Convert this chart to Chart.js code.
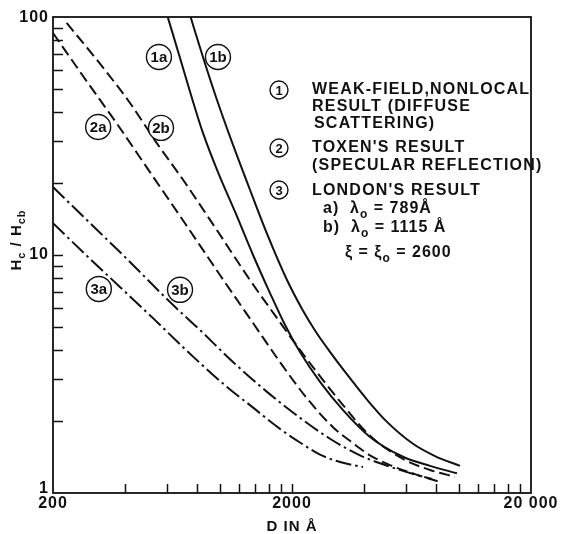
<!DOCTYPE html>
<html><head><meta charset="utf-8">
<script src="https://cdn.jsdelivr.net/npm/chart.js@4.4.1/dist/chart.umd.min.js"></script>
<style>html,body{margin:0;padding:0;background:#fff}#wrap{width:561px;height:534px;position:relative}canvas{display:block}</style>
</head><body><div id="wrap"><canvas id="c" width="561" height="534"></canvas></div>
<script>
// ---- data (D in Å, Hc/Hcb) ----
const D_1a = [604, 680, 756, 848, 980, 1155, 1374, 1618, 1870, 2160, 2620, 3270, 4240, 5826, 7558, 9800];
const H_1a = [100, 67.3, 47.0, 32.6, 22.3, 15.2, 10.0, 6.92, 5.08, 3.91, 2.93, 2.23, 1.72, 1.42, 1.30, 1.21];
const D_1b = [753, 848, 971, 1133, 1334, 1587, 1906, 2200, 2520, 2884, 3398, 4160, 4994, 6416, 7930, 10090];
const H_1b = [100, 67.9, 44.8, 29.0, 18.8, 12.0, 7.85, 5.95, 4.75, 3.92, 3.15, 2.44, 1.99, 1.61, 1.43, 1.30];
const D_2a = [200, 267, 371, 509, 713, 999, 1374, 1781, 2266, 2968, 3600, 4240, 5140, 6540, 8164];
const H_2a = [85.7, 56.5, 35.5, 22.3, 13.6, 8.24, 5.18, 3.55, 2.56, 1.89, 1.62, 1.44, 1.31, 1.20, 1.12];
const D_2b = [228, 315, 420, 540, 700, 971, 1334, 1731, 2160, 3270, 4240, 5826, 7558, 9616];
const H_2b = [94.4, 63.5, 43.5, 29.8, 20.7, 12.7, 7.85, 5.43, 3.99, 2.34, 1.74, 1.39, 1.25, 1.17];
const D_3a = [200, 275, 381, 524, 720, 1069, 1334, 1781, 2160, 2620, 3176, 3965];
const H_3a = [13.6, 10.0, 7.34, 5.43, 3.99, 2.79, 2.34, 1.86, 1.63, 1.45, 1.35, 1.285];
const D_3b = [200, 303, 408, 636, 824, 1133, 1572, 2160, 2884, 3850, 5140, 6864, 7706];
const H_3b = [19.3, 12.86, 9.62, 6.16, 4.84, 3.55, 2.66, 2.07, 1.69, 1.44, 1.29, 1.18, 1.145];

const xTickValues = [400,600,800,1000,1200,1400,1600,1800,2000,4000,6000,8000,10000,12000,14000,16000,18000];
const yTickValues = [2,3,4,5,6,7,8,9,10,20,30,40,50,60,70,80,90];
const xTickLabels = [[200,'200'],[2000,'2000'],[20000,'20 000']];
const yTickLabels = [[1,'1'],[10,'10'],[100,'100']];

const curveLabels = [['1a',555,67.9],['1b',980,67.9],['2a',309,34.5],['2b',566,34.2],['3a',311,7.2],['3b',680,7.14]];

function pts(xs, ys){ return xs.map((v,i)=>({x:v, y:ys[i]})); }

const INK = '#111';
const FONT = '"Liberation Sans", Arial, sans-serif';

function ds(label, xs, ys, dash){
  return {label, data: pts(xs,ys), borderColor: INK, borderWidth: 2, borderDash: dash,
    pointRadius: 0, fill: false, cubicInterpolationMode: 'monotone'};
}

function runs(ctx, x, y, parts, size){
  let cx = x;
  parts.forEach(([t, sub])=>{
    ctx.font = 'bold ' + (sub ? Math.round(size*0.72) : size) + 'px ' + FONT;
    ctx.fillText(t, cx, y + (sub ? size*0.35 : 0));
    cx += ctx.measureText(t).width;
  });
  return cx;
}
function runsWidth(ctx, parts, size){
  let w=0; parts.forEach(([t,sub])=>{ctx.font='bold '+(sub?Math.round(size*0.72):size)+'px '+FONT; w+=ctx.measureText(t).width;}); return w;
}

const deco = {
  id: 'deco',
  afterDatasetsDraw(chart){
    const {ctx, chartArea: a, scales: {x, y}} = chart;
    ctx.save();
    ctx.strokeStyle = INK; ctx.fillStyle = INK;
    ctx.lineWidth = 1.8;
    ctx.strokeRect(a.left, a.top, a.right - a.left, a.bottom - a.top);
    ctx.lineWidth = 1.5;
    xTickValues.forEach(v=>{
      const px = Math.round(x.getPixelForValue(v)) + 0.5;
      ctx.beginPath(); ctx.moveTo(px, a.bottom); ctx.lineTo(px, a.bottom - 9); ctx.stroke();
    });
    yTickValues.forEach(v=>{
      const py = Math.round(y.getPixelForValue(v)) + 0.5;
      ctx.beginPath(); ctx.moveTo(a.left, py); ctx.lineTo(a.left + 10, py); ctx.stroke();
    });
    // tick labels
    ctx.letterSpacing = '1px';
    ctx.font = 'bold 16px ' + FONT;
    ctx.textAlign = 'center'; ctx.textBaseline = 'middle';
    xTickLabels.forEach(([v,t])=>{
      ctx.fillText(t, x.getPixelForValue(v), a.bottom + 11);
    });
    ctx.textAlign = 'right';
    yTickLabels.forEach(([v,t])=>{
      let py = y.getPixelForValue(v);
      if (v === 1) py -= 4;
      if (v === 100) py += 1;
      ctx.fillText(t, a.left - 4, py);
    });
    // x title
    ctx.textAlign = 'center';
    ctx.font = 'bold 15px ' + FONT;
    ctx.fillText('D IN Å', (a.left + a.right)/2, a.bottom + 34);
    // y title rotated
    ctx.save();
    ctx.translate(19, 240);
    ctx.rotate(-Math.PI/2);
    ctx.textAlign = 'left';
    const yt = [['H',false],['c',true],[' / ',false],['H',false],['cb',true]];
    const w = runsWidth(ctx, yt, 15);
    runs(ctx, -w/2, -2, yt, 15);
    ctx.restore();

    // circled curve labels
    ctx.letterSpacing = '0px';
    curveLabels.forEach(([t, dv, hv])=>{
      const cx = x.getPixelForValue(dv), cy = y.getPixelForValue(hv);
      ctx.beginPath(); ctx.arc(cx, cy, 12.5, 0, Math.PI*2);
      ctx.fillStyle = '#fff'; ctx.fill();
      ctx.lineWidth = 1.4; ctx.strokeStyle = INK; ctx.stroke();
      ctx.fillStyle = INK;
      ctx.font = 'bold 15px ' + FONT; ctx.textAlign = 'center'; ctx.textBaseline = 'middle';
      ctx.fillText(t, cx, cy + 1);
    });

    // legend block
    const lx = 312;
    const circ = (cx, cy, t)=>{
      ctx.beginPath(); ctx.arc(cx, cy, 9, 0, Math.PI*2);
      ctx.lineWidth = 1.4; ctx.stroke();
      ctx.font = 'bold 13px ' + FONT; ctx.textAlign = 'center'; ctx.textBaseline='middle';
      ctx.letterSpacing = '0px';
      ctx.fillText(t, cx, cy + 1);
    };
    circ(279, 90, '1'); circ(279, 148, '2'); circ(279, 190, '3');
    ctx.textAlign = 'left'; ctx.textBaseline = 'middle';
    ctx.letterSpacing = '1.2px';
    ctx.font = 'bold 16px ' + FONT;
    ctx.fillText('WEAK-FIELD,NONLOCAL', lx, 90);
    ctx.fillText('RESULT (DIFFUSE', lx, 107);
    ctx.fillText('SCATTERING)', lx + 2, 124);
    ctx.fillText("TOXEN'S RESULT", lx, 148);
    ctx.fillText('(SPECULAR REFLECTION)', lx, 166);
    ctx.fillText("LONDON'S RESULT", lx, 191);
    ctx.letterSpacing = '1px';
    runs(ctx, 323, 209, [['a)  λ',false],['o',true],[' = 789Å',false]], 16);
    runs(ctx, 323, 228, [['b)  λ',false],['o',true],[' = 1115 Å',false]], 16);
    runs(ctx, 345, 253, [['ξ = ξ',false],['o',true],[' = 2600',false]], 16);
    ctx.restore();
  }
};

new Chart(document.getElementById('c'), {
  type: 'line',
  data: { datasets: [
    ds('1a', D_1a, H_1a, []),
    ds('1b', D_1b, H_1b, []),
    ds('2a', D_2a, H_2a, [11,5]),
    ds('2b', D_2b, H_2b, [11,5]),
    ds('3a', D_3a, H_3a, [16,4,2.5,4]),
    ds('3b', D_3b, H_3b, [16,4,2.5,4])
  ]},
  options: {
    responsive: false, animation: false,
    layout: { padding: { left: 53, right: 30, top: 17, bottom: 41 } },
    plugins: { legend: { display: false }, tooltip: { enabled: false } },
    scales: {
      x: { type: 'logarithmic', min: 200, max: 20000,
           grid: { display: false }, border: { display: false }, ticks: { display: false },
           afterFit(s){ s.height = 0; } },
      y: { type: 'logarithmic', min: 1, max: 100,
           grid: { display: false }, border: { display: false }, ticks: { display: false },
           afterFit(s){ s.width = 0; } }
    }
  },
  plugins: [deco]
});
</script>
</body></html>
